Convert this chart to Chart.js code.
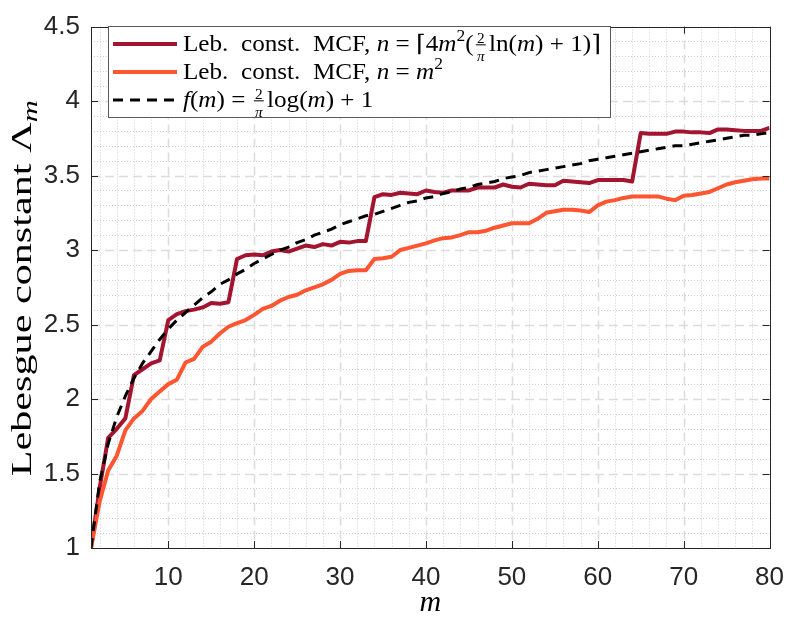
<!DOCTYPE html>
<html>
<head>
<meta charset="utf-8">
<script src="https://cdn.jsdelivr.net/npm/chart.js@4"></script>
<style>
  body { margin: 0; background: #fff; }
  #wrap { width: 798px; height: 625px; position: relative; }
</style>
</head>
<body>
<div id="wrap"><canvas id="lebChart"></canvas></div>
<script>
// m values (x axis)
const mValues = [1,2,3,4,5,6,7,8,9,10,11,12,13,14,15,16,17,18,19,20,
  21,22,23,24,25,26,27,28,29,30,31,32,33,34,35,36,37,38,39,40,
  41,42,43,44,45,46,47,48,49,50,51,52,53,54,55,56,57,58,59,60,
  61,62,63,64,65,66,67,68,69,70,71,72,73,74,75,76,77,78,79,80];

// Leb. const. MCF, n = ceil(4m^2(2/pi ln(m)+1))
const lebMcfLog = [1.00,1.40,1.74,1.80,1.87,2.16,2.20,2.24,2.26,2.53,
  2.57,2.59,2.60,2.615,2.645,2.64,2.65,2.94,2.965,2.97,
  2.965,2.99,3.00,2.99,3.01,3.03,3.02,3.04,3.03,3.055,
  3.05,3.06,3.06,3.355,3.375,3.37,3.385,3.38,3.375,3.40,
  3.39,3.385,3.40,3.40,3.40,3.42,3.42,3.42,3.44,3.425,
  3.42,3.445,3.44,3.435,3.435,3.465,3.46,3.455,3.45,3.47,
  3.47,3.47,3.47,3.46,3.785,3.78,3.78,3.78,3.795,3.795,
  3.79,3.79,3.785,3.81,3.81,3.805,3.80,3.80,3.80,3.82];

// Leb. const. MCF, n = m^2
const lebMcfSquare = [1.00,1.31,1.52,1.62,1.79,1.87,1.92,2.00,2.05,2.10,
  2.13,2.245,2.27,2.35,2.385,2.44,2.485,2.51,2.53,2.565,
  2.605,2.625,2.66,2.685,2.70,2.73,2.75,2.77,2.80,2.84,
  2.86,2.865,2.865,2.94,2.945,2.955,3.00,3.015,3.03,3.045,
  3.065,3.08,3.085,3.10,3.12,3.12,3.13,3.15,3.165,3.18,
  3.18,3.18,3.21,3.25,3.26,3.27,3.27,3.265,3.255,3.30,
  3.325,3.335,3.35,3.36,3.36,3.36,3.36,3.345,3.335,3.365,
  3.37,3.38,3.39,3.415,3.44,3.455,3.465,3.475,3.48,3.48];

// f(m) = 2/pi log(m) + 1
const logBound = [1.00,1.44,1.70,1.88,2.02,2.14,2.24,2.32,2.40,2.47,
  2.53,2.58,2.63,2.68,2.72,2.77,2.80,2.84,2.87,2.91,
  2.94,2.97,3.00,3.02,3.05,3.07,3.10,3.12,3.14,3.17,
  3.19,3.21,3.23,3.24,3.26,3.28,3.30,3.32,3.33,3.35,
  3.36,3.38,3.39,3.41,3.42,3.44,3.45,3.46,3.48,3.49,
  3.50,3.52,3.53,3.54,3.55,3.56,3.57,3.58,3.60,3.61,
  3.62,3.63,3.64,3.65,3.66,3.67,3.68,3.69,3.70,3.70,
  3.71,3.72,3.73,3.74,3.75,3.76,3.77,3.77,3.78,3.79];

const xTickValues = [10,20,30,40,50,60,70,80];
const yTickValues = [1,1.5,2,2.5,3,3.5,4,4.5];

const darkRed = '#A2142F';
const orange = '#FF5530';
const axisColor = '#262626';
const serif = '"Liberation Serif", "DejaVu Serif", serif';

function pts(ys) {
  return mValues.map((m, i) => ({ x: m, y: ys[i] }));
}

// draw (or just measure) a row of mixed text: roman / italic / superscript / fraction
function drawRuns(ctx, x, y, runs, size, dry) {
  const x0 = x;
  ctx.textBaseline = 'alphabetic';
  ctx.fillStyle = '#000';
  runs.forEach(r => {
    if (r.frac) {
      const fs = Math.round(size * 0.62);
      ctx.font = fs + 'px ' + serif;
      const wn = ctx.measureText(r.frac[0]).width;
      ctx.font = 'italic ' + fs + 'px ' + serif;
      const wd = ctx.measureText(r.frac[1]).width;
      const w = Math.max(wn, wd) + 2;
      if (!dry) {
        ctx.textAlign = 'center';
        ctx.font = fs + 'px ' + serif;
        ctx.fillText(r.frac[0], x + 2 + w / 2, y - size * 0.36);
        ctx.font = 'italic ' + fs + 'px ' + serif;
        ctx.fillText(r.frac[1], x + 2 + w / 2, y + size * 0.42);
        ctx.fillRect(x + 2, y - size * 0.29, w, 1);
        ctx.textAlign = 'left';
      }
      x += w + 5;
      return;
    }
    const fs = r.sup ? Math.round(size * 0.7) : size;
    ctx.font = (r.i ? 'italic ' : '') + fs + 'px ' + serif;
    if (!dry) ctx.fillText(r.t, x, r.sup ? y - size * 0.42 : y);
    x += ctx.measureText(r.t).width;
  });
  return x - x0;
}

const decorPlugin = {
  id: 'decor',
  beforeDatasetsDraw(chart) {
    const { ctx, chartArea: a, scales: { x, y } } = chart;
    ctx.save();
    ctx.lineWidth = 1;
    // minor grid (dotted)
    ctx.strokeStyle = '#cfcfcf';
    ctx.setLineDash([1, 2]);
    for (let v = 2; v < 80; v += 2) {
      if (v % 10 === 0) continue;
      const px = Math.round(x.getPixelForValue(v)) + 0.5;
      ctx.beginPath(); ctx.moveTo(px, a.top); ctx.lineTo(px, a.bottom); ctx.stroke();
    }
    for (let k = 11; k < 45; k++) {
      if (k % 5 === 0) continue;
      const py = Math.round(y.getPixelForValue(k / 10)) + 0.5;
      ctx.beginPath(); ctx.moveTo(a.left, py); ctx.lineTo(a.right, py); ctx.stroke();
    }
    // major grid (dashed)
    ctx.strokeStyle = '#dcdcdc';
    ctx.lineWidth = 1.5;
    ctx.setLineDash([9, 5]);
    xTickValues.forEach(v => {
      if (v === 80) return;
      const px = Math.round(x.getPixelForValue(v)) + 0.5;
      ctx.beginPath(); ctx.moveTo(px, a.top); ctx.lineTo(px, a.bottom); ctx.stroke();
    });
    yTickValues.forEach(v => {
      if (v === 1 || v === 4.5) return;
      const py = Math.round(y.getPixelForValue(v)) + 0.5;
      ctx.beginPath(); ctx.moveTo(a.left, py); ctx.lineTo(a.right, py); ctx.stroke();
    });
    ctx.restore();
  },
  afterDatasetsDraw(chart) {
    const { ctx, chartArea: a, scales: { x, y } } = chart;
    ctx.save();
    // axes box + inward ticks
    ctx.strokeStyle = axisColor;
    ctx.lineWidth = 1;
    ctx.setLineDash([]);
    ctx.strokeRect(Math.round(a.left) + 0.5, Math.round(a.top) + 0.5,
      Math.round(a.right - a.left), Math.round(a.bottom - a.top));
    const tl = 7;
    ctx.beginPath();
    xTickValues.forEach(v => {
      const px = Math.round(x.getPixelForValue(v)) + 0.5;
      ctx.moveTo(px, a.bottom); ctx.lineTo(px, a.bottom - tl);
      ctx.moveTo(px, a.top); ctx.lineTo(px, a.top + tl);
    });
    yTickValues.forEach(v => {
      const py = Math.round(y.getPixelForValue(v)) + 0.5;
      ctx.moveTo(a.left, py); ctx.lineTo(a.left + tl, py);
      ctx.moveTo(a.right, py); ctx.lineTo(a.right - tl, py);
    });
    ctx.stroke();

    // legend
    const lx = 108.5, ly = 26.5, lw = 502, lh = 91;
    ctx.fillStyle = '#fff';
    ctx.fillRect(lx, ly, lw, lh);
    ctx.strokeStyle = '#5a5a5a';
    ctx.strokeRect(lx, ly, lw, lh);
    const rows = [
      { color: darkRed, dash: [], width: 4, yc: 44, runs: [
        { t: 'Leb.  const.  MCF, ' }, { t: 'n', i: true }, { t: ' = \u23084' }, { t: 'm', i: true },
        { t: '2', sup: true }, { t: '(' }, { frac: ['2', '\u03c0'] }, { t: 'ln(' }, { t: 'm', i: true },
        { t: ') + 1)\u2309' }] },
      { color: orange, dash: [], width: 4, yc: 72, runs: [
        { t: 'Leb.  const.  MCF, ' }, { t: 'n', i: true }, { t: ' = ' }, { t: 'm', i: true },
        { t: '2', sup: true }] },
      { color: '#000', dash: [10, 7], width: 3, yc: 100, runs: [
        { t: 'f', i: true }, { t: '(' }, { t: 'm', i: true }, { t: ') = ' }, { frac: ['2', '\u03c0'] },
        { t: 'log(' }, { t: 'm', i: true }, { t: ') + 1' }] }
    ];
    const fsz = 23;
    const sx = (601 - 183) / drawRuns(ctx, 0, 0, rows[0].runs, fsz, true);
    rows.forEach(r => {
      ctx.strokeStyle = r.color;
      ctx.lineWidth = r.width;
      ctx.setLineDash(r.dash);
      ctx.beginPath(); ctx.moveTo(113, r.yc); ctx.lineTo(177, r.yc); ctx.stroke();
      ctx.setLineDash([]);
      ctx.save();
      ctx.translate(183, r.yc + 7);
      ctx.scale(sx, 1);
      drawRuns(ctx, 0, 0, r.runs, fsz, false);
      ctx.restore();
    });

    // axis titles
    ctx.fillStyle = '#000';
    ctx.font = 'italic 30px ' + serif;
    ctx.textAlign = 'center';
    ctx.fillText('m', (a.left + a.right) / 2, 611);
    ctx.translate(31, (a.top + a.bottom) / 2 + 1);
    ctx.rotate(-Math.PI / 2);
    const main = 'Lebesgue constant \u039b';
    ctx.font = '29px ' + serif;
    const w1 = ctx.measureText(main).width;
    ctx.font = 'italic 21px ' + serif;
    const w2 = ctx.measureText('m').width;
    // stretch along the text direction to the reference label length
    ctx.scale(376 / (w1 + w2), 1);
    const tx = -(w1 + w2) / 2;
    ctx.textAlign = 'left';
    ctx.font = '29px ' + serif;
    ctx.fillText(main, tx, 0);
    ctx.font = 'italic 21px ' + serif;
    ctx.fillText('m', tx + w1, 6);
    ctx.restore();
  }
};

const tickFont = { family: '"Liberation Sans", Arial, sans-serif', size: 26 };

new Chart(document.getElementById('lebChart'), {
  type: 'line',
  data: {
    datasets: [
      { label: 'f(m) = 2/\u03c0 log(m) + 1', data: pts(logBound), borderColor: '#000',
        borderWidth: 3, borderDash: [10, 7], pointRadius: 0, tension: 0 },
      { label: 'Leb. const. MCF, n = m^2', data: pts(lebMcfSquare), borderColor: orange,
        borderWidth: 4, pointRadius: 0, tension: 0, borderJoinStyle: 'round' },
      { label: 'Leb. const. MCF, n = ceil(4m^2(2/\u03c0 ln(m)+1))', data: pts(lebMcfLog), borderColor: darkRed,
        borderWidth: 4, pointRadius: 0, tension: 0, borderJoinStyle: 'round' }
    ]
  },
  options: {
    responsive: true,
    maintainAspectRatio: false,
    animation: false,
    layout: { padding: { top: 12, right: 17, left: 0, bottom: 0 } },
    plugins: { legend: { display: false }, tooltip: { enabled: false } },
    scales: {
      x: {
        type: 'linear', min: 1, max: 80,
        afterBuildTicks: s => { s.ticks = xTickValues.map(v => ({ value: v })); },
        afterFit: s => { s.height = 77; },
        grid: { display: false, drawTicks: false },
        border: { display: false },
        ticks: { color: axisColor, font: tickFont, padding: 14, maxRotation: 0,
          callback: v => String(v) }
      },
      y: {
        min: 1, max: 4.5,
        afterBuildTicks: s => { s.ticks = yTickValues.map(v => ({ value: v })); },
        afterFit: s => { s.width = 91; },
        grid: { display: false, drawTicks: false },
        border: { display: false },
        ticks: { color: axisColor, font: tickFont, padding: 11,
          callback: v => String(v) }
      }
    }
  },
  plugins: [decorPlugin]
});
</script>
</body>
</html>
